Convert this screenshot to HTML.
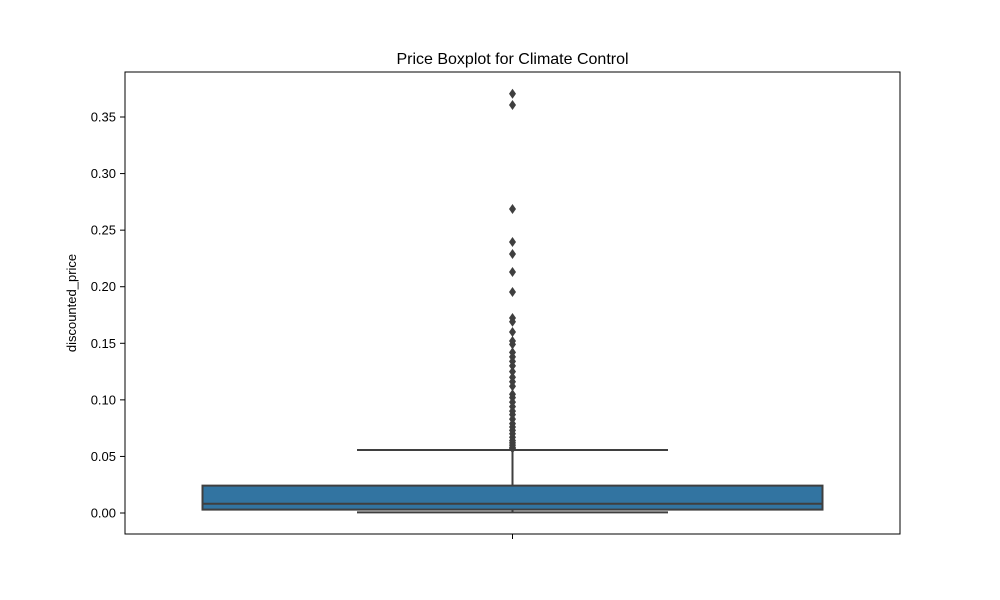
<!DOCTYPE html>
<html><head><meta charset="utf-8"><style>
body{margin:0;background:#fff;}
svg{display:block;font-family:"Liberation Sans","DejaVu Sans",sans-serif;}
</style></head><body>
<svg id="chart" width="1000" height="600">
<rect x="0" y="0" width="1000" height="600" fill="#fff"/>
<text x="512.5" y="64" text-anchor="middle" font-size="16">Price Boxplot for Climate Control</text>
<text transform="translate(76,303) rotate(-90)" text-anchor="middle" font-size="13">discounted_price</text>
<g id="yticks"></g>
<g id="plot"></g>
<rect x="125" y="72" width="775" height="462" fill="none" stroke="#000" stroke-width="1"/>
<line x1="512.5" y1="534" x2="512.5" y2="539" stroke="#000"/>
</svg>
<script>
const tickValues=[0,0.05,0.1,0.15,0.2,0.25,0.3,0.35];
const tickLabels=["0.00","0.05","0.10","0.15","0.20","0.25","0.30","0.35"];
const boxStats=[0.0005,0.003,0.0082,0.0242,0.0557]; // whiskLo,Q1,median,Q3,whiskHi
const outliers=[0.3706,0.3606,0.2687,0.2395,0.2289,0.213,0.1953,0.1723,0.169,0.16,0.152,0.149,0.142,0.138,0.134,0.13,0.125,0.12,0.116,0.112,0.105,0.102,0.098,0.094,0.09,0.087,0.083,0.079,0.076,0.073,0.07,0.067,0.064,0.062,0.06,0.058,0.057];
const NS="http://www.w3.org/2000/svg";
function y(v){return 513-v*1131.4;}
const cx=512.5, halfBox=310, halfCap=155.5;
function mk(tag,attrs,parent){const e=document.createElementNS(NS,tag);for(const k in attrs)e.setAttribute(k,attrs[k]);parent.appendChild(e);return e;}
const yt=document.getElementById('yticks');
tickValues.forEach((v,i)=>{
  const l=mk('line',{x1:120,x2:125,y1:y(v),y2:y(v),stroke:'#000'},yt);
  
  
  const t=mk('text',{x:116,y:y(v)+4.5,'text-anchor':'end','font-size':'13'},yt);
  t.textContent=tickLabels[i];
  
  
});
const p=document.getElementById('plot');
const c='#3f3f3f';
let w1=mk('line',{x1:cx,x2:cx,y1:y(boxStats[3]),y2:y(boxStats[4]),stroke:c,'stroke-width':2},p);


let w2=mk('line',{x1:cx,x2:cx,y1:y(boxStats[0]),y2:y(boxStats[1]),stroke:c,'stroke-width':2},p);


let c1=mk('line',{x1:cx-halfCap,x2:cx+halfCap,y1:y(boxStats[4]),y2:y(boxStats[4]),stroke:c,'stroke-width':2},p);


let c2=mk('line',{x1:cx-halfCap,x2:cx+halfCap,y1:y(boxStats[0]),y2:y(boxStats[0]),stroke:c,'stroke-width':2},p);


let b=mk('rect',{x:cx-halfBox,y:y(boxStats[3]),width:2*halfBox,height:y(boxStats[1])-y(boxStats[3]),fill:'#3274a1',stroke:c,'stroke-width':2},p);


let m=mk('line',{x1:cx-halfBox,x2:cx+halfBox,y1:y(boxStats[2]),y2:y(boxStats[2]),stroke:c,'stroke-width':2},p);


outliers.forEach(v=>{
  const yy=y(v);
  const d=mk('polygon',{points:`${cx},${yy-5} ${cx+3.5},${yy} ${cx},${yy+5} ${cx-3.5},${yy}`,fill:c},p);
  
  
});
</script>
</body></html>
